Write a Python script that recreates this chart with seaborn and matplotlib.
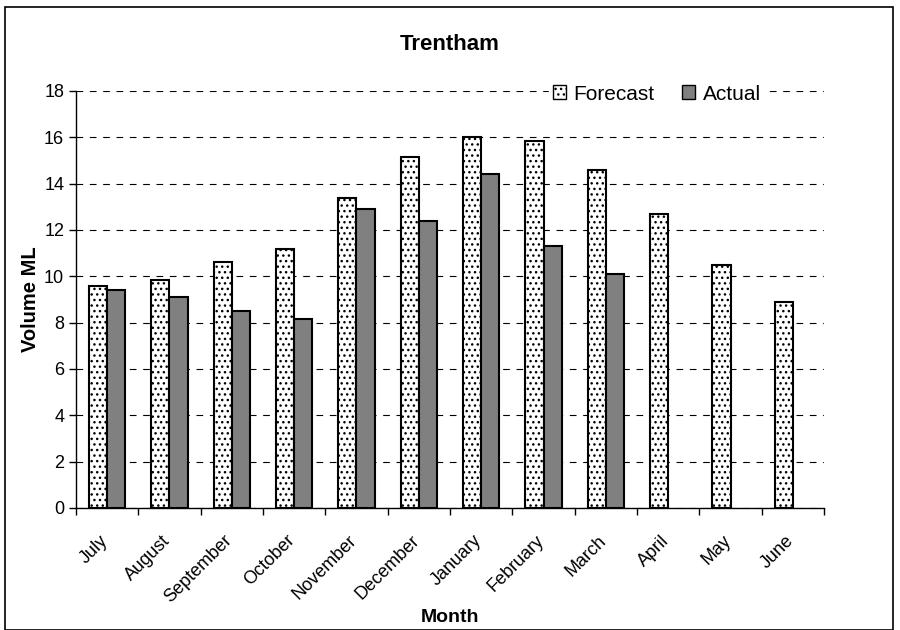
import numpy as np
import pandas as pd
import matplotlib
matplotlib.use("Agg")
import matplotlib.pyplot as plt
import seaborn as sns
from matplotlib.patches import Rectangle
from matplotlib.transforms import ScaledTranslation

months = ["July", "August", "September", "October", "November", "December",
          "January", "February", "March", "April", "May", "June"]
forecast = [9.6, 9.85, 10.6, 11.2, 13.4, 15.15, 16.0, 15.85, 14.6, 12.7, 10.5, 8.9]
actual = [9.4, 9.1, 8.5, 8.15, 12.9, 12.4, 14.4, 11.3, 10.1, np.nan, np.nan, np.nan]

df = pd.DataFrame({
    "Month": months * 2,
    "Volume": forecast + actual,
    "Series": ["Forecast"] * 12 + ["Actual"] * 12,
})

sns.set_style("white")
plt.rcParams["font.family"] = ["Liberation Sans", "DejaVu Sans"]
plt.rcParams["hatch.linewidth"] = 1.0
plt.rcParams["hatch.color"] = "#555555"
for k in ["text.color", "axes.labelcolor", "xtick.color", "ytick.color"]:
    plt.rcParams[k] = "black"

fig = plt.figure(figsize=(9, 6.3), dpi=100)
ax = fig.add_axes([0.0844, 0.1937, 0.8312, 0.6619])

sns.barplot(data=df, x="Month", y="Volume", hue="Series", order=months,
            hue_order=["Forecast", "Actual"], palette=["white", "#808080"],
            width=0.58, gap=0, edgecolor="black", linewidth=1.5,
            saturation=1, ax=ax, zorder=3)


def dotted(patch):
    patch.set_hatch("...")
    if hasattr(patch, "set_hatchcolor"):
        patch.set_hatchcolor("#555555")


# dotted fill for forecast bars
for bar in ax.containers[0]:
    dotted(bar)

ax.set_ylim(0, 18)
ax.set_xlim(-0.5, 11.5)
ax.set_yticks(np.arange(0, 19, 2))
ax.yaxis.grid(True, color="black", linestyle=(0, (6, 6)), linewidth=0.8, zorder=0)
ax.set_axisbelow(True)
for s in ["top", "right"]:
    ax.spines[s].set_visible(False)
for s in ["left", "bottom"]:
    ax.spines[s].set_color("black")
    ax.spines[s].set_linewidth(1.0)

ax.set_xticks(np.arange(12))
ax.set_xticklabels(months, rotation=45, ha="right", rotation_mode="anchor", fontsize=13)
ax.set_xticks(np.arange(-0.5, 12, 1), minor=True)
ax.tick_params(axis="x", which="major", length=0, pad=13)
ax.tick_params(axis="x", which="minor", length=5, width=1, color="black", direction="out", bottom=True)
ax.tick_params(axis="y", length=5, width=1, color="black", direction="out", left=True, labelsize=13)
shift = ScaledTranslation(-0.08, -0.06, fig.dpi_scale_trans)
for lab in ax.get_xticklabels():
    lab.set_transform(lab.get_transform() + shift)

ax.set_xlabel("Month", fontsize=14, fontweight="bold", labelpad=2)
ax.set_ylabel("Volume ML", fontsize=14.5, fontweight="bold", labelpad=3)
fig.text(0.5, 0.929, "Trentham", ha="center", va="center", fontsize=16, fontweight="bold")

leg = ax.legend(loc="upper right", bbox_to_anchor=(0.935, 1.05), ncol=2, frameon=True,
                fontsize=15, handlelength=0.65, handleheight=0.65, handletextpad=0.35,
                columnspacing=1.3, borderpad=0.2)
leg.get_frame().set_edgecolor("white")
leg.get_frame().set_facecolor("white")
leg.get_frame().set_alpha(1)
for h in leg.legend_handles:
    h.set_linewidth(1.0)
dotted(leg.legend_handles[0])

fig.patches.append(Rectangle((5 / 900, 0), 888 / 900, 1 - 7 / 630, transform=fig.transFigure,
                             fill=False, edgecolor="black", linewidth=1.2))

fig.savefig("out.png", dpi=100)
